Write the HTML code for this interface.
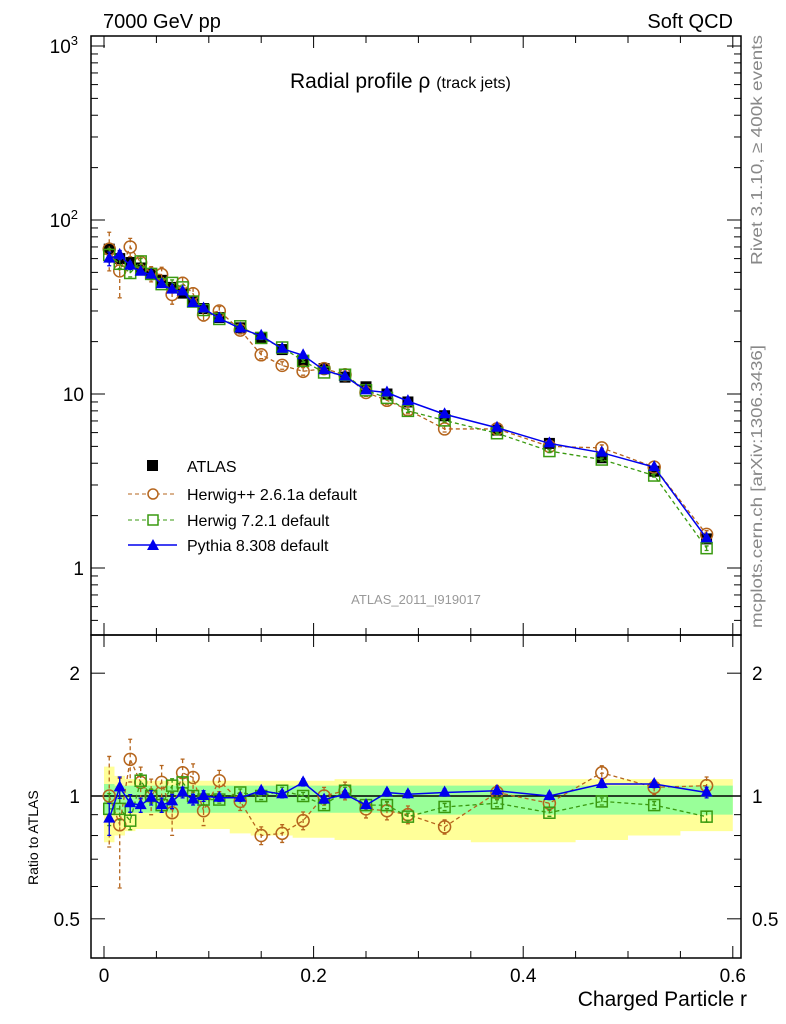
<!DOCTYPE html>
<html><head><meta charset="utf-8"><style>
body{margin:0;background:#fff}
svg{display:block;font-family:"Liberation Sans",sans-serif}
</style></head><body>
<svg id="c" width="786" height="1024" viewBox="0 0 786 1024">
<text x="103" y="28" font-size="20">7000 GeV pp</text>
<text x="733" y="28" font-size="20" text-anchor="end">Soft QCD</text>
<text x="290" y="88" font-size="21">Radial profile ρ <tspan font-size="16">(track jets)</tspan></text>
<text x="416" y="604" font-size="13" fill="#999" text-anchor="middle">ATLAS_2011_I919017</text>
<text transform="translate(762,265) rotate(-90)" font-size="16" fill="#888" textLength="230" lengthAdjust="spacingAndGlyphs">Rivet 3.1.10, ≥ 400k events</text>
<text transform="translate(762,628) rotate(-90)" font-size="16" fill="#888" textLength="283" lengthAdjust="spacingAndGlyphs">mcplots.cern.ch [arXiv:1306.3436]</text>
<text transform="translate(38,885) rotate(-90)" font-size="14">Ratio to ATLAS</text>
<text x="747" y="1006" font-size="21" text-anchor="end">Charged Particle r</text>
<g id="g"></g>
<g>
<rect x="147" y="460" width="11" height="11" fill="#000"/>
<text x="187" y="472" font-size="16">ATLAS</text>
<line x1="128" y1="494" x2="177" y2="494" stroke="#b5651d" stroke-dasharray="4,3"/>
<circle cx="153" cy="494" r="5" fill="#fff" stroke="#b5651d" stroke-width="1.5"/>
<text x="187" y="500" font-size="16">Herwig++ 2.6.1a default</text>
<line x1="128" y1="520" x2="177" y2="520" stroke="#3a9a10" stroke-dasharray="4,3"/>
<rect x="148" y="515" width="10" height="10" fill="#fff" stroke="#3a9a10" stroke-width="1.5"/>
<text x="187" y="526" font-size="16">Herwig 7.2.1 default</text>
<line x1="128" y1="545" x2="177" y2="545" stroke="#0000ee" stroke-width="1.5"/>
<path d="M153,539 L159,550 L147,550 Z" fill="#0000ee"/>
<text x="187" y="551" font-size="16">Pythia 8.308 default</text>
</g>
</svg>
<script>
const xs=[0.005,0.015,0.025,0.035,0.045,0.055,0.065,0.075,0.085,0.095,0.11,0.13,0.15,0.17,0.19,0.21,0.23,0.25,0.27,0.29,0.325,0.375,0.425,0.475,0.525,0.575];
const hw=[0.005,0.005,0.005,0.005,0.005,0.005,0.005,0.005,0.005,0.005,0.01,0.01,0.01,0.01,0.01,0.01,0.01,0.01,0.01,0.01,0.025,0.025,0.025,0.025,0.025,0.025];
const atlas=[68,60,57,53,49,45,41,38,34,31,27.5,24,21,18,15.5,14,12.5,11,10,9,7.5,6.2,5.2,4.3,3.6,1.47];
const herwigpp=[68,51,70,57,49,48.6,37.3,43.3,37.7,28.5,30,23.3,16.8,14.6,13.5,14,12.9,10.2,9.2,8.1,6.3,6.3,5.0,4.9,3.8,1.56];
const herwig7=[63,56,49.6,57.8,49,42.8,43.5,41,34,30.4,27,24.5,21,18.5,15.5,13.3,12.9,10.5,9.5,8.0,7.05,5.95,4.7,4.2,3.4,1.3];
const pythia=[60,63,54.7,50.4,48.5,42.8,39.8,38.8,33.3,31,27.2,23.8,21.6,18.2,16.7,13.7,12.6,10.5,10.2,9.1,7.65,6.4,5.2,4.6,3.8,1.48];
const rHpp=[1.0,0.85,1.23,1.08,1.0,1.08,0.91,1.14,1.11,0.92,1.09,0.97,0.80,0.81,0.87,1.0,1.03,0.93,0.92,0.90,0.84,1.02,0.96,1.14,1.05,1.06];
const rH7=[0.93,0.93,0.87,1.09,1.0,0.95,1.06,1.08,1.0,0.98,0.98,1.02,1.0,1.03,1.0,0.95,1.03,0.95,0.95,0.89,0.94,0.96,0.91,0.97,0.95,0.89];
const rPy=[0.88,1.05,0.96,0.95,0.99,0.95,0.97,1.02,0.98,1.0,0.99,0.99,1.03,1.01,1.08,0.98,1.01,0.95,1.02,1.01,1.02,1.03,1.0,1.07,1.07,1.02];
const errHpp=[0.25,0.3,0.12,0.09,0.1,0.1,0.12,0.08,0.08,0.08,0.06,0.05,0.05,0.05,0.05,0.05,0.05,0.05,0.05,0.05,0.04,0.04,0.04,0.04,0.04,0.05];
const errMC=[0.09,0.06,0.05,0.04,0.04,0.04,0.04,0.03,0.03,0.03,0.02,0.02,0.02,0.02,0.02,0.02,0.02,0.02,0.02,0.02,0.02,0.02,0.02,0.02,0.02,0.03];
const bandGhi=[0.07,0.06,0.06,0.06,0.06,0.06,0.06,0.06,0.06,0.06,0.06,0.06,0.06,0.06,0.06,0.06,0.06,0.06,0.06,0.06,0.06,0.06,0.06,0.06,0.06,0.06];
const bandGlo=[0.1,0.09,0.09,0.09,0.09,0.09,0.09,0.09,0.09,0.09,0.09,0.09,0.09,0.09,0.09,0.09,0.09,0.09,0.09,0.09,0.1,0.1,0.1,0.1,0.1,0.1];
const bandYlo=[0.23,0.2,0.18,0.17,0.17,0.17,0.17,0.17,0.17,0.17,0.17,0.19,0.2,0.2,0.21,0.21,0.22,0.22,0.22,0.22,0.22,0.23,0.23,0.22,0.2,0.18];
const bandYhi=[0.18,0.12,0.1,0.1,0.09,0.09,0.09,0.09,0.09,0.09,0.09,0.09,0.09,0.09,0.09,0.09,0.1,0.1,0.1,0.1,0.1,0.1,0.1,0.1,0.1,0.1];
const xTickLabels=[0,0.2,0.4,0.6];
const yTickLabels=[1,10,100,1000];
const rTickLabels=[0.5,1,2];

const NS='http://www.w3.org/2000/svg',g=document.getElementById('g');
const L=91,R=741,T=36,MB=635,RB=958;
const X=v=>104+v*1048;
const Y=v=>568-Math.log10(v)*174;
const RY=v=>796-Math.log10(v)*408;
function mk(t,a,name){const e=document.createElementNS(NS,t);for(const k in a)e.setAttribute(k,a[k]);


g.appendChild(e);return e;}
let py='',pg='';
xs.forEach((x,i)=>{const a=X(x-hw[i]),b=X(x+hw[i]);
 py+=`M${a},${RY(1+bandYhi[i])}H${b}V${RY(1-bandYlo[i])}H${a}Z`;
 pg+=`M${a},${RY(1+bandGhi[i])}H${b}V${RY(1-bandGlo[i])}H${a}Z`;});
mk('path',{d:py,fill:'#ffff99'},'ratio-band-yellow');
mk('path',{d:pg,fill:'#99ff99'},'ratio-band-green');
mk('line',{x1:L,x2:R,y1:RY(1),y2:RY(1),stroke:'#000','stroke-width':1.5},'ratio-unity-line');
mk('rect',{x:L,y:T,width:R-L,height:MB-T,fill:'none',stroke:'#000','stroke-width':1.5},'main-frame');
mk('rect',{x:L,y:MB,width:R-L,height:RB-MB,fill:'none',stroke:'#000','stroke-width':1.5},'ratio-frame');
for(let k=0;k<=12;k++){const v=k*0.05,x=X(v),len=(k%4==0)?12:7;
 [T,MB,RB].forEach(yy=>{ if(yy!=T) mk('line',{x1:x,x2:x,y1:yy-len,y2:yy,stroke:'#000'},'x-tick');
  if(yy!=RB) mk('line',{x1:x,x2:x,y1:yy,y2:yy+len,stroke:'#000'},'x-tick');});}
xTickLabels.forEach(v=>{const t=mk('text',{x:X(v),y:982,'font-size':19,'text-anchor':'middle'},'x-tick-label');t.textContent=v==0?'0':v;});
for(let d=-1;d<=3;d++)for(let m=1;m<10;m++){const v=m*Math.pow(10,d),y=Y(v);if(y<T||y>MB)continue;const len=m==1?14:7;
 mk('line',{x1:L,x2:L+len,y1:y,y2:y,stroke:'#000'},'y-tick');mk('line',{x1:R-len,x2:R,y1:y,y2:y,stroke:'#000'},'y-tick');}
yTickLabels.forEach(v=>{const t=mk('text',{x:84,y:Y(v)+7,'font-size':19,'text-anchor':'end'},'y-tick-label');
 if(v>=100){t.textContent='10';const s=document.createElementNS(NS,'tspan');s.setAttribute('dy','-8');s.setAttribute('font-size','13');s.textContent=Math.round(Math.log10(v));t.appendChild(s);t.setAttribute('x',78);}else t.textContent=v;});
for(let d=-1;d<=0;d++)for(let m=1;m<10;m++){const v=m*Math.pow(10,d),y=RY(v);if(y<MB||y>RB)continue;const len=(v==0.5||v==1||v==2)?14:7;
 mk('line',{x1:L,x2:L+len,y1:y,y2:y,stroke:'#000'},'ratio-tick');mk('line',{x1:R-len,x2:R,y1:y,y2:y,stroke:'#000'},'ratio-tick');}
rTickLabels.forEach(v=>{const t=mk('text',{x:80,y:RY(v)+7,'font-size':19,'text-anchor':'end'},'ratio-tick-label');t.textContent=v;
 const t2=mk('text',{x:752,y:RY(v)+7,'font-size':19},'ratio-tick-label-right');t2.textContent=v;});
function series(vals,errs,Yf,col,dash,shape,name){
 let d='';vals.forEach((v,i)=>{d+=(i?'L':'M')+X(xs[i])+','+Yf(v);});
 mk('path',{d,fill:'none',stroke:col,'stroke-width':dash?1.3:1.5,'stroke-dasharray':dash?'4,3':'none'},name+'-line');
 vals.forEach((v,i)=>{const x=X(xs[i]),y=Yf(v),e=errs[i];
  const y1=Yf(v*(1+e)),y2=Yf(v*(1-e));
  mk('path',{d:`M${x},${y1}V${y2}M${x-2},${y1}H${x+2}M${x-2},${y2}H${x+2}`,stroke:col,'stroke-width':1.3,'stroke-dasharray':dash?'4,3':'none',fill:'none'},name+'-errorbar');
  if(shape=='c')mk('circle',{cx:x,cy:y,r:6,fill:'none',stroke:col,'stroke-width':1.5},name+'-point');
  else if(shape=='s')mk('rect',{x:x-5.5,y:y-5.5,width:11,height:11,fill:'none',stroke:col,'stroke-width':1.5},name+'-point');
  else mk('path',{d:`M${x},${y-7}L${x+6},${y+4}L${x-6},${y+4}Z`,fill:col},name+'-point');});}
atlas.forEach((v,i)=>{const x=X(xs[i]),y=Y(v);mk('rect',{x:x-5.5,y:y-5.5,width:11,height:11,fill:'#000'},'atlas-point');});
series(herwigpp,errHpp,Y,'#b5651d',true,'c','herwigpp');
series(herwig7,errMC,Y,'#3a9a10',true,'s','herwig7');
series(pythia,errMC,Y,'#0000ee',false,'t','pythia');
series(rHpp,errHpp,RY,'#b5651d',true,'c','ratio-herwigpp');
series(rH7,errMC,RY,'#3a9a10',true,'s','ratio-herwig7');
series(rPy,errMC,RY,'#0000ee',false,'t','ratio-pythia');
</script>
</body></html>
